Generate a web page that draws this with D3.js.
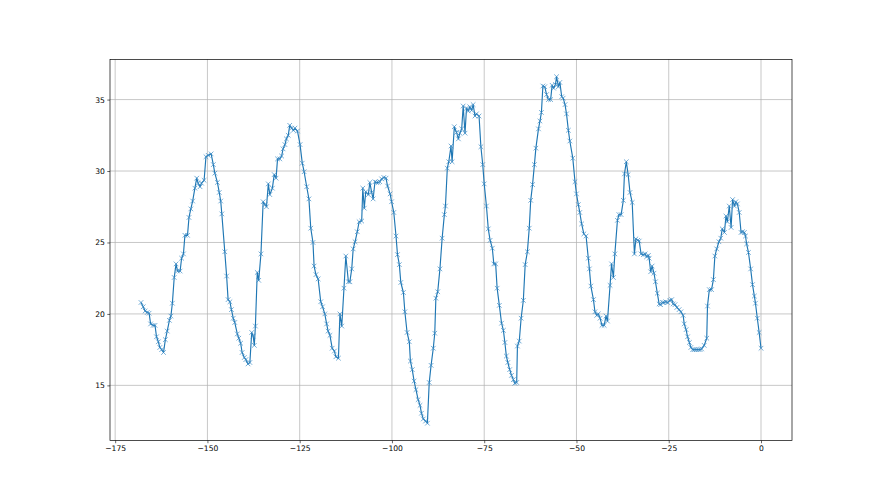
<!DOCTYPE html>
<html>
<head>
<meta charset="utf-8">
<script src="https://cdn.jsdelivr.net/npm/d3@7"></script>
<style>
  html, body { margin: 0; padding: 0; background: #fff; }
  svg { display: block; }
  .tick text { font-family: "DejaVu Sans", sans-serif; font-size: 7.6px; fill: #000; }
</style>
</head>
<body>
<svg id="chart" width="880" height="495"></svg>
<script>
// hours (relative)
const hours = [
-168.0,-167.4,-166.9,-166.3,-165.8,-165.4,-164.7,-164.2,-163.8,-163.3,-162.9,-162.4,-161.9,-161.4,-160.9,-160.3,-159.9,-159.5,-159.0,-158.5,
-158.1,-157.4,-157.0,-156.5,-156.1,-155.4,-155.0,-154.5,-154.0,-153.4,-152.9,-152.5,-152.0,-151.6,-150.9,-150.4,-149.8,-149.0,-148.4,-148.0,
-147.3,-146.8,-146.4,-146.1,-145.3,-144.8,-144.4,-143.9,-143.5,-143.0,-142.6,-141.9,-141.5,-141.0,-140.6,-140.0,-139.6,-139.0,-138.5,-138.0,
-137.6,-137.3,-137.0,-136.5,-136.1,-135.5,-134.9,-134.4,-134.0,-133.5,-133.1,-132.4,-131.9,-131.4,-131.0,-130.4,-129.9,-129.5,-129.0,-128.6,
-128.1,-127.7,-127.2,-126.7,-126.3,-125.6,-124.9,-124.3,-123.8,-123.1,-122.5,-122.0,-121.4,-121.1,-120.6,-120.0,-119.3,-118.8,-118.2,-117.7,
-117.3,-116.8,-116.2,-115.6,-115.2,-114.5,-114.1,-113.6,-113.0,-112.5,-111.8,-111.4,-110.9,-110.5,-110.0,-109.4,-108.9,-108.2,-107.9,-107.5,
-107.1,-106.4,-106.0,-105.5,-105.1,-104.6,-104.2,-103.7,-103.3,-102.8,-102.2,-101.6,-101.2,-100.5,-100.1,-99.5,-98.9,-98.5,-98.0,-97.6,
-96.9,-96.5,-95.9,-95.3,-95.0,-94.5,-94.0,-93.5,-92.9,-92.4,-92.0,-91.5,-90.9,-90.4,-89.9,-89.4,-88.8,-88.4,-88.1,-87.6,
-87.0,-86.4,-85.8,-85.5,-85.0,-84.6,-84.0,-83.7,-83.1,-82.5,-82.0,-81.6,-81.1,-80.7,-80.2,-79.8,-79.3,-78.9,-78.4,-78.0,
-77.5,-77.1,-76.4,-75.9,-75.4,-75.0,-74.4,-73.9,-73.4,-72.8,-72.4,-71.9,-71.5,-70.9,-70.3,-69.8,-69.4,-69.0,-68.6,-68.1,
-67.6,-67.1,-66.7,-66.2,-66.0,-65.5,-65.0,-64.4,-63.9,-63.3,-62.8,-62.4,-61.9,-61.4,-61.0,-60.3,-59.9,-59.5,-59.1,-58.6,
-58.1,-57.6,-57.0,-56.6,-56.2,-55.7,-55.4,-54.9,-54.5,-54.0,-53.6,-53.1,-52.7,-52.2,-51.8,-51.0,-50.4,-50.0,-49.5,-49.1,
-48.6,-48.0,-47.4,-46.8,-46.5,-46.1,-45.4,-45.0,-44.5,-44.1,-43.6,-43.1,-42.5,-42.0,-41.6,-40.9,-40.5,-40.0,-39.6,-38.9,
-38.5,-37.9,-37.3,-37.0,-36.5,-36.0,-35.5,-34.9,-34.3,-33.9,-33.4,-33.0,-32.5,-31.9,-31.4,-31.0,-30.5,-30.3,-29.9,-29.5,
-29.0,-28.6,-28.1,-27.6,-27.2,-26.7,-26.3,-25.8,-25.3,-24.7,-24.2,-23.8,-23.3,-22.8,-22.2,-21.7,-21.1,-20.8,-20.3,-19.9,
-19.4,-19.0,-18.5,-18.1,-17.6,-17.0,-16.5,-16.1,-15.4,-14.7,-14.5,-14.0,-13.4,-12.9,-12.5,-12.0,-11.4,-10.9,-10.5,-9.9,
-9.5,-9.1,-8.6,-8.1,-7.7,-7.2,-6.8,-6.4,-5.9,-5.4,-5.0,-4.5,-4.2,-3.9,-3.4,-2.8,-2.3,-1.8,-1.5,-1.0,
-0.5,0.0
];
const values = [
20.8,20.5,20.2,20.1,20.05,19.3,19.2,19.2,18.4,18.05,17.65,17.5,17.3,18.2,18.8,19.55,19.85,20.75,22.55,23.5,
23.0,23.0,23.9,24.2,25.5,25.5,26.75,27.35,27.9,28.8,29.5,29.15,28.9,29.15,29.35,31.0,31.1,31.2,30.45,29.85,
29.2,28.5,27.9,27.0,24.35,22.65,21.0,20.85,20.3,19.7,19.4,18.6,18.3,17.95,17.3,16.95,16.8,16.5,16.6,18.7,
18.45,17.8,19.15,22.9,22.35,24.2,27.85,27.65,27.5,29.1,28.35,28.8,29.75,29.5,30.85,30.85,31.05,31.55,31.85,32.25,
32.5,33.2,33.0,32.85,33.0,32.8,31.85,30.55,29.95,28.9,28.05,26.0,25.0,23.35,22.75,22.45,20.85,20.5,20.0,19.3,
18.8,18.5,17.6,17.4,17.0,16.9,20.0,19.15,21.8,24.05,22.25,22.25,23.15,24.55,25.05,25.75,26.45,26.5,28.8,27.4,
28.55,28.35,29.2,28.5,28.05,29.25,29.2,29.2,29.25,29.45,29.55,29.5,28.95,28.4,27.85,27.1,25.45,24.15,23.45,22.2,
21.5,20.15,18.7,18.05,16.7,16.1,15.3,14.7,14.0,13.6,13.05,12.65,12.5,12.35,15.2,16.4,17.6,18.65,21.1,21.55,
23.15,25.3,26.95,27.55,30.2,30.65,31.75,30.65,33.1,32.7,32.25,32.65,32.95,34.55,32.65,34.4,34.2,34.5,34.25,34.65,
33.85,34.0,33.85,31.7,30.45,29.1,27.55,25.95,25.15,24.6,23.5,23.5,21.8,20.6,19.35,18.85,18.0,17.05,16.6,16.1,
15.7,15.4,15.15,15.2,17.75,18.1,19.7,20.95,23.45,24.35,26.0,27.95,29.05,30.45,31.6,32.95,33.5,34.1,35.95,35.9,
35.35,35.0,35.0,36.0,35.8,36.05,36.6,35.9,36.2,35.2,35.1,34.65,34.0,32.85,32.1,30.9,29.25,28.4,27.65,27.1,
26.3,25.6,25.45,23.9,23.15,21.95,21.0,20.15,19.9,20.0,19.7,19.2,19.2,19.85,19.5,22.0,23.5,22.55,24.2,26.55,
26.95,26.95,27.95,29.8,30.65,29.75,28.5,27.8,24.2,25.25,25.15,25.1,24.2,24.15,24.2,24.0,24.1,23.9,22.95,23.35,
22.85,22.25,21.45,20.7,20.65,20.8,20.8,20.85,20.8,20.95,21.0,20.7,20.65,20.45,20.3,20.15,19.9,19.3,18.9,18.4,
18.0,17.65,17.5,17.5,17.5,17.5,17.5,17.55,17.8,18.3,20.55,21.7,21.7,22.4,24.05,24.55,25.05,25.3,25.95,25.7,
26.85,26.45,27.55,26.05,28.0,27.55,27.85,27.7,27.1,25.7,25.75,25.7,25.45,24.9,24.3,23.15,22.05,21.25,20.75,19.7,
18.7,17.6
];
const xTicks = [-175, -150, -125, -100, -75, -50, -25, 0];
const yTicks = [15, 20, 25, 30, 35];

const data = hours.map((h, i) => ({ x: h, y: values[i] }));

const W = 880, H = 495;
const margin = { left: 110, right: 88, top: 59.4, bottom: 54.45 };
const svg = d3.select("#chart");

const xMin = d3.min(hours), xMax = d3.max(hours);
const yMin = d3.min(values), yMax = d3.max(values);
const xPad = (xMax - xMin) * 0.05, yPad = (yMax - yMin) * 0.05;

const x = d3.scaleLinear().domain([xMin - xPad, xMax + xPad]).range([margin.left, W - margin.right]);
const y = d3.scaleLinear().domain([yMin - yPad, yMax + yPad]).range([H - margin.bottom, margin.top]);

// grid
const grid = svg.append("g");
grid.selectAll("line.vx").data(xTicks).enter().append("line")
  .attr("x1", d => x(d)).attr("x2", d => x(d))
  .attr("y1", margin.top).attr("y2", H - margin.bottom)
  .attr("stroke", "#b0b0b0").attr("stroke-width", 0.7);
grid.selectAll("line.hy").data(yTicks).enter().append("line")
  .attr("y1", d => y(d)).attr("y2", d => y(d))
  .attr("x1", margin.left).attr("x2", W - margin.right)
  .attr("stroke", "#b0b0b0").attr("stroke-width", 0.7);

// line
const line = d3.line().x(d => x(d.x)).y(d => y(d.y));
svg.append("path").datum(data)
  .attr("fill", "none").attr("stroke", "#1f77b4")
  .attr("stroke-width", 1.15).attr("stroke-linejoin", "round")
  .attr("d", line);

// x markers
const ms = 2.3;
svg.append("g").selectAll("path").data(data).enter().append("path")
  .attr("d", d => {
    const cx = x(d.x), cy = y(d.y);
    return `M${cx - ms},${cy - ms}L${cx + ms},${cy + ms}M${cx - ms},${cy + ms}L${cx + ms},${cy - ms}`;
  })
  .attr("stroke", "#3a8ac4").attr("stroke-width", 0.7).attr("fill", "none");

// axes
const fmt = d => (d < 0 ? "\u2212" + Math.abs(d) : String(d));
const xAxis = d3.axisBottom(x).tickValues(xTicks).tickFormat(fmt).tickSize(2.7).tickPadding(2.5);
const yAxis = d3.axisLeft(y).tickValues(yTicks).tickFormat(fmt).tickSize(2.7).tickPadding(2.5);

const gx = svg.append("g").attr("transform", `translate(0,${H - margin.bottom})`).call(xAxis);
const gy = svg.append("g").attr("transform", `translate(${margin.left},0)`).call(yAxis);
[gx, gy].forEach(g => {
  g.select(".domain").remove();
  g.selectAll(".tick line").attr("stroke", "#000").attr("stroke-width", 0.6);
});

// spines
svg.append("rect")
  .attr("x", margin.left).attr("y", margin.top)
  .attr("width", W - margin.left - margin.right)
  .attr("height", H - margin.top - margin.bottom)
  .attr("fill", "none").attr("stroke", "#000").attr("stroke-width", 0.7);
</script>
</body>
</html>
